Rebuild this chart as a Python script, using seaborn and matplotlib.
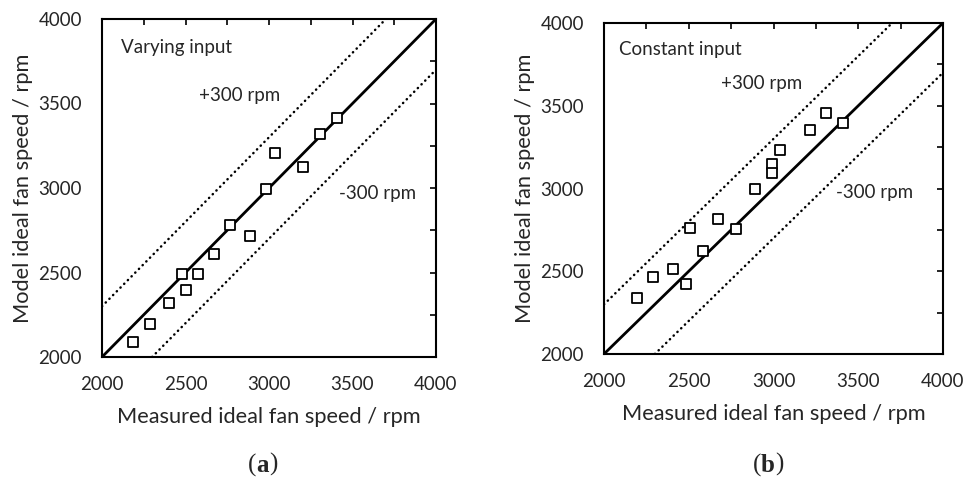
import numpy as np
import pandas as pd
import matplotlib
matplotlib.use("Agg")
import matplotlib.pyplot as plt
from matplotlib.ticker import MultipleLocator
import seaborn as sns

# Measured vs. model ideal fan speeds (rpm)
measured_varying = [2186, 2285, 2403, 2477, 2501, 2577, 2671, 2768, 2886, 2985,
                    3034, 3206, 3307, 3407]
model_varying = [2089, 2198, 2317, 2491, 2394, 2491, 2610, 2780, 2717, 2994,
                 3208, 3125, 3319, 3416]

measured_constant = [2193, 2290, 2406, 2486, 2506, 2583, 2673, 2778, 2890, 2990,
                     2990, 3039, 3215, 3311, 3411]
model_constant = [2336, 2467, 2511, 2420, 2761, 2624, 2815, 2753, 2996, 3151,
                  3091, 3235, 3356, 3459, 3396]

axis_range = [2000, 4000]
band = 300
major_ticks = [2000, 2500, 3000, 3500, 4000]

panels = [
    dict(x=measured_varying, y=model_varying, title="Varying input", tag="a"),
    dict(x=measured_constant, y=model_constant, title="Constant input", tag="b"),
]

sns.set_style("white")
plt.rcParams["font.family"] = ["Lato", "DejaVu Sans"]
plt.rcParams["axes.linewidth"] = 1.5

fig = plt.figure(figsize=(9.65, 4.79), dpi=100)
W, H = 965, 479
# axes boxes in pixels: left, top, right, bottom
boxes = [(102, 19, 436, 357), (604, 23, 943, 354)]
# annotation positions in data units
title_pos = [(2114, 3834), (2088, 3837)]
plus_pos = [(2581, 3550), (2690, 3637)]
minus_pos = [(3419, 2970), (3369, 2973)]

for i, (p, (l, t, r, b)) in enumerate(zip(panels, boxes)):
    ax = fig.add_axes([l / W, 1 - b / H, (r - l) / W, (b - t) / H])
    ref = pd.DataFrame({"x": axis_range, "y": axis_range})
    upper = pd.DataFrame({"x": [axis_range[0], axis_range[1] - band],
                          "y": [axis_range[0] + band, axis_range[1]]})
    lower = pd.DataFrame({"x": [axis_range[0] + band, axis_range[1]],
                          "y": [axis_range[0], axis_range[1] - band]})
    sns.lineplot(data=ref, x="x", y="y", ax=ax, color="black", lw=2.0)
    for d in (upper, lower):
        sns.lineplot(data=d, x="x", y="y", ax=ax, color="black", lw=1.8,
                     linestyle=(0, (0.1, 2.0)), dash_capstyle="round")
    pts = pd.DataFrame({"x": p["x"], "y": p["y"]})
    sns.scatterplot(data=pts, x="x", y="y", ax=ax, marker="s", s=46,
                    facecolor="white", edgecolor="black", linewidth=1.3,
                    zorder=5, clip_on=False)

    ax.set_xlim(axis_range)
    ax.set_ylim(axis_range)
    ax.set_xticks(major_ticks)
    ax.set_yticks(major_ticks)
    ax.xaxis.set_minor_locator(MultipleLocator(250))
    ax.yaxis.set_minor_locator(MultipleLocator(250))
    ax.tick_params(which="both", direction="in", top=True, right=True,
                   length=4.5, width=1.2, color="black")
    ax.tick_params(axis="y", which="major", labelsize=13.5, pad=14.4)
    ax.tick_params(axis="x", which="major", labelsize=13.5, pad=14)
    for s in ax.spines.values():
        s.set_visible(True)
        s.set_color("black")
        s.set_linewidth(1.5)

    ax.set_xlabel("Measured ideal fan speed / rpm", fontsize=15.7, labelpad=10)
    ax.set_ylabel("Model ideal fan speed / rpm", fontsize=15.7, labelpad=4)

    ax.text(*title_pos[i], p["title"], fontsize=13.5, va="center", ha="left")
    ax.text(*plus_pos[i], f"+{band} rpm", fontsize=13.5, va="center", ha="left")
    ax.text(*minus_pos[i], f"-{band} rpm", fontsize=13.5, va="center", ha="left")

    # panel caption: "(" + bold letter + ")"
    cx = (l + r) / 2 / W
    t1 = fig.text(cx - 0.013, 1 - 465 / H, "(", fontsize=18,
                  family=["Liberation Serif"], va="center", ha="right")
    t2 = fig.text(cx - 0.013, 1 - 465 / H, p["tag"], fontsize=18,
                  family=["Liberation Serif"], weight="bold", va="center",
                  ha="left")
    t3 = ax.annotate(")", xy=(1, 0), xycoords=t2, fontsize=18,
                     family=["Liberation Serif"], va="bottom", ha="left")

fig.savefig("out.png", dpi=100)
